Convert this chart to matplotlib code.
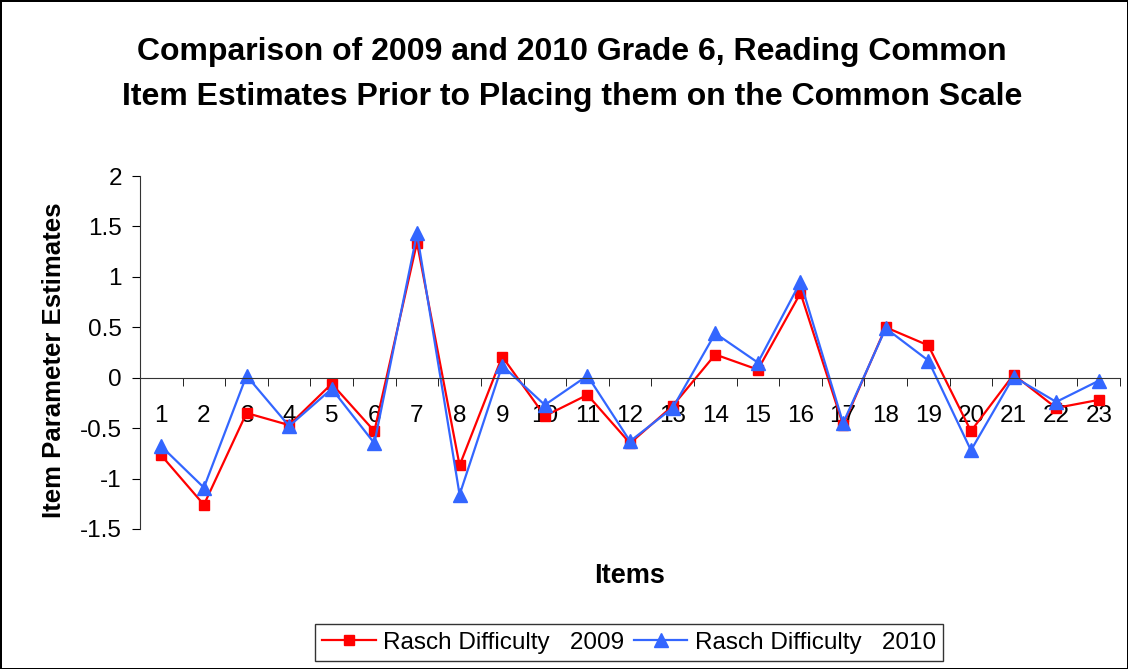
import matplotlib
matplotlib.use('Agg')
import matplotlib.pyplot as plt
from matplotlib.ticker import FixedLocator, FuncFormatter

plt.rcParams['font.family'] = ['Liberation Sans', 'DejaVu Sans']

items = list(range(1, 24))
rasch_2009 = [-0.77, -1.26, -0.35, -0.47, -0.06, -0.53, 1.34, -0.87, 0.21, -0.38,
              -0.17, -0.65, -0.28, 0.23, 0.08, 0.84, -0.47, 0.50, 0.32, -0.53,
              0.03, -0.30, -0.22]
rasch_2010 = [-0.68, -1.09, 0.02, -0.48, -0.11, -0.65, 1.43, -1.16, 0.12, -0.27,
              0.02, -0.63, -0.30, 0.44, 0.15, 0.95, -0.45, 0.49, 0.17, -0.72,
              0.01, -0.24, -0.03]
y_ticks = [-1.5, -1, -0.5, 0, 0.5, 1, 1.5, 2]

fig = plt.figure(figsize=(11.28, 6.69), dpi=100)
fig.patch.set_edgecolor('black')
fig.patch.set_linewidth(2)
ax = fig.add_axes([0.1241, 0.2093, 0.8689, 0.5276])

ax.plot(items, rasch_2009, color='#FF0000', marker='s', markersize=7.8, linewidth=1.6,
        label='Rasch Difficulty   2009')
ax.plot(items, rasch_2010, color='#3366FF', marker='^', markersize=9.5, linewidth=1.6,
        label='Rasch Difficulty   2010')

ax.set_xlim(0.5, 23.5)
ax.set_ylim(-1.5, 2)

# spines like the excel chart: value axis on the left, category axis through zero
ax.spines['top'].set_visible(False)
ax.spines['right'].set_visible(False)
ax.spines['bottom'].set_position(('data', 0))
ax.spines['left'].set_color('#333333')
ax.spines['bottom'].set_color('#333333')

ax.yaxis.set_major_locator(FixedLocator(y_ticks))
ax.yaxis.set_major_formatter(FuncFormatter(lambda v, p: ('%g' % v)))
ax.tick_params(axis='y', direction='out', length=6, labelsize=17.5, pad=7)

ax.set_xticks(items)
ax.set_xticklabels([str(i) for i in items])
ax.set_xticks([i + 0.5 for i in range(0, 24)], minor=True)
ax.tick_params(axis='x', which='major', length=0, labelsize=17.5, pad=20)
ax.tick_params(axis='x', which='minor', direction='out', length=6)

ax.set_xlabel('Items', fontsize=19.5, fontweight='bold')
ax.xaxis.set_label_coords(0.5, -0.096)
ax.set_ylabel('Item Parameter Estimates', fontsize=18.5, fontweight='bold')
ax.yaxis.set_label_coords(-0.0758, 0.479)

fig.suptitle('Comparison of 2009 and 2010 Grade 6, Reading Common\n'
             'Item Estimates Prior to Placing them on the Common Scale',
             fontsize=23, fontweight='bold', x=0.507, y=0.944, va='top',
             linespacing=1.65)

leg = fig.legend(loc='center', bbox_to_anchor=(0.5576, 0.0396), ncol=2,
                 fontsize=17.5, frameon=True, fancybox=False, edgecolor='black',
                 handlelength=2.2, columnspacing=0.4, handletextpad=0.3,
                 borderpad=0.3, borderaxespad=0)
leg.get_frame().set_linewidth(1)

fig.savefig('out.png', dpi=100)
